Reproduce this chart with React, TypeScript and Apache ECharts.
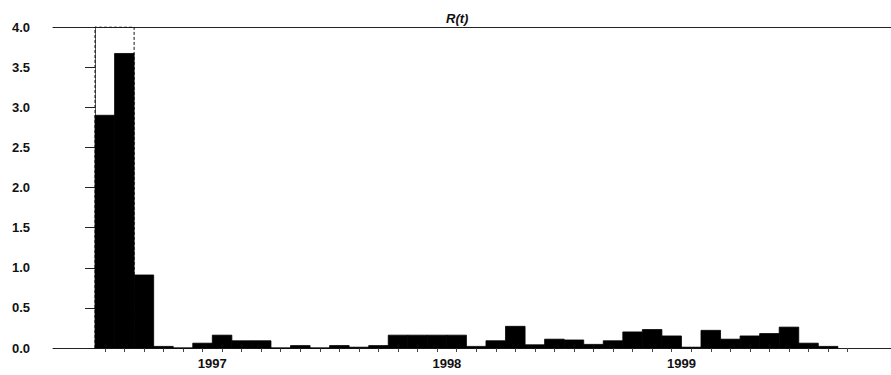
import React, { useEffect, useRef } from "react";
import * as echarts from "echarts";

// Monthly R(t) values, January 1997 onwards (one bar per month)
const monthlyValues: number[] = [
  2.9, 3.67, 0.91, 0.02, 0.0, 0.06, 0.16, 0.09, 0.09, 0.0,
  0.03, 0.0, 0.03, 0.01, 0.03, 0.16, 0.16, 0.16, 0.16, 0.02,
  0.09, 0.27, 0.04, 0.11, 0.1, 0.045, 0.09, 0.2, 0.23, 0.15,
  0.01, 0.22, 0.11, 0.15, 0.18, 0.26, 0.06, 0.02,
];

// Year labels, placed at the middle of each year (month offset from Jan 1997)
const yearLabels: string[] = ["1997", "1998", "1999"];
const yearLabelMonths: number[] = [6, 18, 30];

// Y-axis tick range
const yMin = 0;
const yMax = 4;
const yStep = 0.5;

// Highlighted window (first two months), drawn as a dashed outline
const highlightMonths: number[] = [0, 2];

// Visible month range of the time axis
const xMin = -2.15;
const xMax = 40.72;

export default function App() {
  const ref = useRef<HTMLDivElement>(null);

  useEffect(() => {
    document.body.style.margin = "0";
    if (!ref.current) return;
    const chart = echarts.init(ref.current, undefined, { renderer: "svg" });

    const barData = monthlyValues.map((v, i) => [i, v]);
    const tickCenters = monthlyValues.map((_, i) => i + 0.5).concat([38.5]);
    const boxData = [
      [highlightMonths[0], yMin],
      [highlightMonths[0], yMax],
      [highlightMonths[1], yMax],
      [highlightMonths[1], yMin],
    ];

    const labelFont = {
      fontFamily: "Liberation Sans, Arial, sans-serif",
      fontSize: 13,
      fontWeight: "bold" as const,
      color: "#111",
    };

    chart.setOption({
      animation: false,
      backgroundColor: "#fff",
      title: {
        text: "R(t)",
        left: 441,
        top: 7,
        textStyle: {
          fontFamily: "Liberation Sans, Arial, sans-serif",
          fontSize: 13,
          fontStyle: "italic",
          fontWeight: "bold",
          color: "#111",
        },
      },
      grid: { left: 53, right: 0, top: 27, bottom: 27 },
      xAxis: [
        {
          type: "value",
          min: xMin,
          max: xMax,
          position: "bottom",
          axisLine: { show: true, onZero: false, lineStyle: { color: "#222", width: 1 } },
          axisTick: {
            show: true,
            length: 4,
            customValues: tickCenters,
            lineStyle: { color: "#444", width: 1 },
          },
          axisLabel: {
            show: true,
            margin: 9,
            customValues: yearLabelMonths,
            formatter: (v: number) => {
              const idx = yearLabelMonths.indexOf(Math.round(v));
              return idx >= 0 ? yearLabels[idx] : "";
            },
            ...labelFont,
          },
          splitLine: { show: false },
        },
        {
          type: "value",
          min: xMin,
          max: xMax,
          position: "top",
          axisLine: { show: true, onZero: false, lineStyle: { color: "#222", width: 1.2 } },
          axisTick: { show: false },
          axisLabel: { show: false },
          splitLine: { show: false },
        },
      ],
      yAxis: {
        type: "value",
        min: yMin,
        max: yMax,
        interval: yStep,
        axisLine: { show: true, lineStyle: { color: "#555", width: 1 } },
        axisTick: { show: true, length: 10, lineStyle: { color: "#222", width: 1 } },
        axisLabel: {
          margin: 23,
          formatter: (v: number) => v.toFixed(1),
          ...labelFont,
        },
        splitLine: { show: false },
      },
      series: [
        {
          type: "line",
          xAxisIndex: 0,
          data: boxData,
          symbol: "none",
          z: 2,
          lineStyle: { color: "#111", width: 1, type: [3, 2] },
        },
        {
          type: "custom",
          xAxisIndex: 0,
          z: 3,
          data: barData,
          encode: { x: 0, y: 1 },
          renderItem: (_params: any, api: any) => {
            const x = api.value(0);
            const y = api.value(1);
            const p0 = api.coord([x, y]);
            const p1 = api.coord([x + 1, 0]);
            return {
              type: "rect",
              shape: {
                x: p0[0],
                y: p0[1],
                width: p1[0] - p0[0],
                height: p1[1] - p0[1],
              },
              style: { fill: "#000", stroke: "#000", lineWidth: 0.8 },
            };
          },
        },
      ],
    });

    return () => chart.dispose();
  }, []);

  return <div ref={ref} style={{ width: 891, height: 375 }} />;
}
